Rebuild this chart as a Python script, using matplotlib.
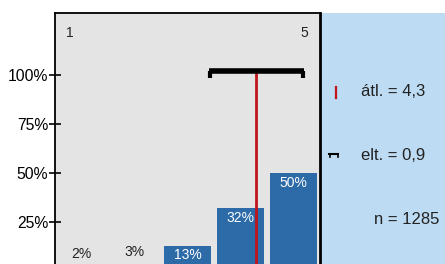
import matplotlib
matplotlib.use("Agg")
import matplotlib.pyplot as plt

plt.rcParams['font.family'] = ['Liberation Sans', 'DejaVu Sans']

categories = [1, 2, 3, 4, 5]
values = [2, 3, 13, 32, 50]
labels = ["2%", "3%", "13%", "32%", "50%"]
bar_colors = ["#a9cdea", "#a9cdea", "#2c6aa8", "#2c6aa8", "#2c6aa8"]
mean_val = 4.3
sd_val = 0.9
n_val = 1285
yticks = [25, 50, 75, 100]
ytick_labels = ["25%", "50%", "75%", "100%"]

W, H = 445, 264
fig = plt.figure(figsize=(W / 100, H / 100), dpi=100)

def fx(px):
    return px / W

def fy(py):
    return 1 - py / H

# main axes: 0% at y=271px (below figure edge), top at y=13px
bottom = fy(271)
top = fy(13)
ax = fig.add_axes([fx(55), bottom, fx(320) - fx(55), top - bottom])
ax.set_facecolor("#e4e4e4")
ax.set_xlim(0.5, 5.5)
ymax = (271 - 13) / 49 * 25
ax.set_ylim(0, ymax)

bars = ax.bar(categories, values, width=0.89, color=bar_colors, zorder=2)
for c, v, lab in zip(categories, values, labels):
    if v >= 10:
        ax.text(c, v - 1.3, lab, ha="center", va="top", color="white", fontsize=10, zorder=4)
    else:
        ax.text(c, v + 3.0, lab, ha="center", va="bottom", color="#222222", fontsize=10, zorder=4)

# category end labels
ax.text(0.78, ymax - 10, "1", ha="center", va="center", fontsize=10, color="#222222")
ax.text(5.2, ymax - 10, "5", ha="center", va="center", fontsize=10, color="#222222")

# mean line
y_sd = 102
ax.plot([mean_val, mean_val], [0, y_sd], color="#c0141c", lw=2, zorder=3)
# sd bar with caps
lo, hi = mean_val - sd_val, mean_val + sd_val
ax.plot([lo, hi], [y_sd, y_sd], color="black", lw=4, solid_capstyle="butt", zorder=5)
ax.plot([lo + 0.03, lo + 0.03], [y_sd, y_sd - 3.5], color="black", lw=3, solid_capstyle="butt", zorder=5)
ax.plot([hi - 0.03, hi - 0.03], [y_sd, y_sd - 3.5], color="black", lw=3, solid_capstyle="butt", zorder=5)

ax.set_yticks(yticks)
ax.set_yticklabels(ytick_labels, fontsize=11.3)
ax.tick_params(axis="y", direction="inout", length=8, width=1.2, pad=1, colors="black")
ax.set_xticks([])
for s in ["left", "top"]:
    ax.spines[s].set_linewidth(1.3)
ax.spines["right"].set_linewidth(2)
ax.spines["bottom"].set_visible(False)

# right info panel
ax2 = fig.add_axes([fx(320), bottom, 1 - fx(320), top - bottom])
ax2.set_facecolor("#bddcf3")
ax2.set_xticks([])
ax2.set_yticks([])
for s in ax2.spines.values():
    s.set_visible(False)
ax.set_zorder(3)

fig.text(fx(361), fy(91), "átl. = 4,3", ha="left", va="center", fontsize=12, color="#222222")
fig.text(fx(361), fy(155), "elt. = 0,9", ha="left", va="center", fontsize=12, color="#222222")
fig.text(fx(439), fy(219), "n = {}".format(n_val), ha="right", va="center", fontsize=12, color="#222222")

# legend markers
fig.add_artist(plt.Line2D([fx(336), fx(336)], [fy(98), fy(87)], color="#c0141c", lw=1.6))
fig.add_artist(plt.Line2D([fx(329), fx(338)], [fy(153.5), fy(153.5)], color="black", lw=1.5))
fig.add_artist(plt.Line2D([fx(329.5), fx(329.5)], [fy(153.5), fy(157)], color="black", lw=1.2))
fig.add_artist(plt.Line2D([fx(337.5), fx(337.5)], [fy(153.5), fy(157)], color="black", lw=1.2))

fig.savefig("out.png", dpi=100)
